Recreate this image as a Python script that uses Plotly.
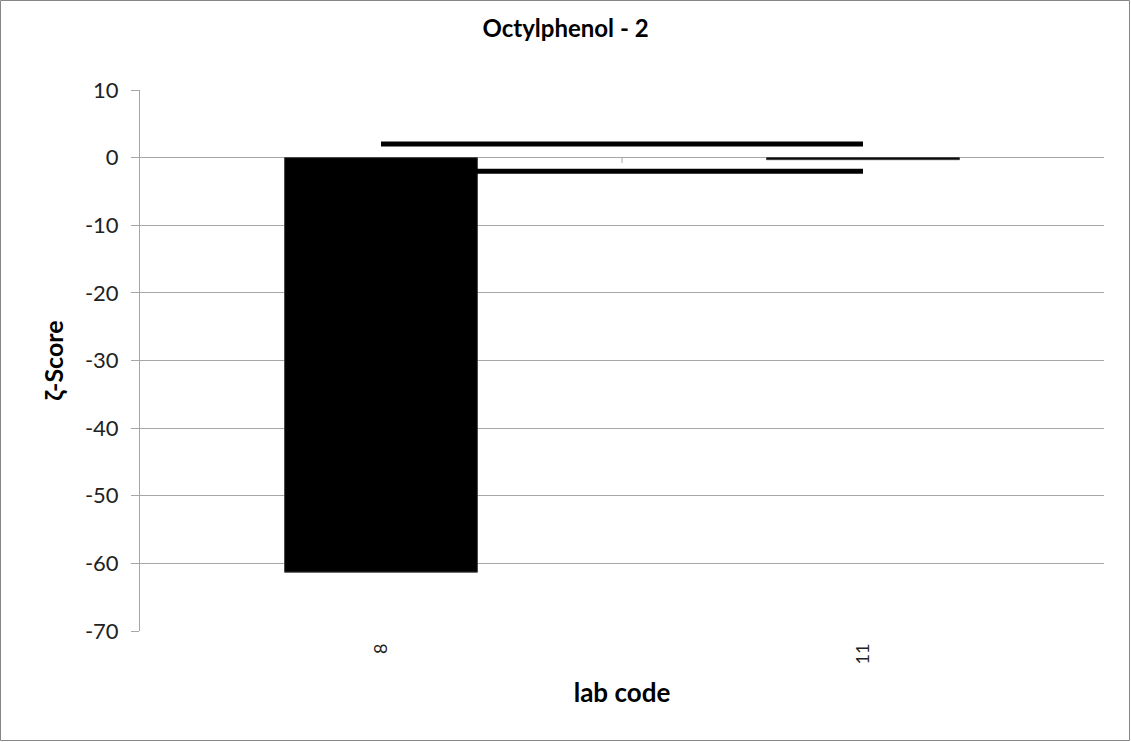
import plotly.graph_objects as go

# Data ################################
lab_codes = ['8', '11']
z_scores = [-61.3, -0.3]
limit_upper = [2, 2]
limit_lower = [-2, -2]
y_ticks = [10, 0, -10, -20, -30, -40, -50, -60, -70]

W, H = 1131, 742
L, R, T, B = 140, 27, 90, 111
pw, ph = W - L - R, H - T - B

fig = go.Figure()

# bars
fig.add_trace(go.Bar(
    x=lab_codes, y=z_scores,
    marker=dict(color='black', line=dict(color='#404040', width=1)),
    width=0.4,
    hoverinfo='x+y',
))

# +/- 2 limit lines
for lim in (limit_upper, limit_lower):
    fig.add_trace(go.Scatter(
        x=lab_codes, y=lim, mode='lines',
        line=dict(color='black', width=5),
        hoverinfo='skip',
    ))

fig.update_layout(
    width=W, height=H,
    margin=dict(l=L, r=R, t=T, b=B),
    paper_bgcolor='white', plot_bgcolor='white',
    showlegend=False,
    font=dict(family='Lato, Liberation Sans, sans-serif', color='#222'),
    title=dict(text='<b>Octylphenol - 2</b>', x=0.5, xanchor='center',
               y=1 - 29 / H, yanchor='middle', font=dict(size=24, color='black')),
)

fig.update_yaxes(
    range=[-70, 10], tickvals=y_ticks, ticktext=[str(v) for v in y_ticks],
    showgrid=True, gridcolor='#a6a6a6', gridwidth=1,
    zeroline=True, zerolinecolor='#a6a6a6', zerolinewidth=1,
    showline=True, linecolor='#a6a6a6',
    ticks='outside', ticklen=8, tickcolor='#a6a6a6',
    ticklabelstandoff=8,
    tickfont=dict(size=22, color='#222'),
    title=dict(text='<b>ζ-Score</b>', font=dict(size=25, color='black'), standoff=14),
)

fig.update_xaxes(
    type='category', range=[-0.5, 1.5],
    showgrid=False, showline=False,
    tickangle=-90, tickfont=dict(size=18, color='#222'),
    ticks='', ticklabelstandoff=8,
    title=dict(text='<b>lab code</b>', font=dict(size=26, color='black'), standoff=20),
)

# small category divider tick on the zero axis
fig.add_shape(type='line', xref='x', yref='y', x0=0.5, x1=0.5, y0=0, y1=-0.8,
              line=dict(color='#a6a6a6', width=1))

# outer chart border
fig.add_shape(type='rect', xref='paper', yref='paper',
              x0=-(L - 0.5) / pw, x1=(pw + R - 1.5) / pw,
              y0=-(B - 1.5) / ph, y1=(ph + T - 0.5) / ph,
              line=dict(color='#868686', width=1))

fig.write_html("out.html", config={'displayModeBar': False},
               post_script="document.body.style.margin='0px';")
